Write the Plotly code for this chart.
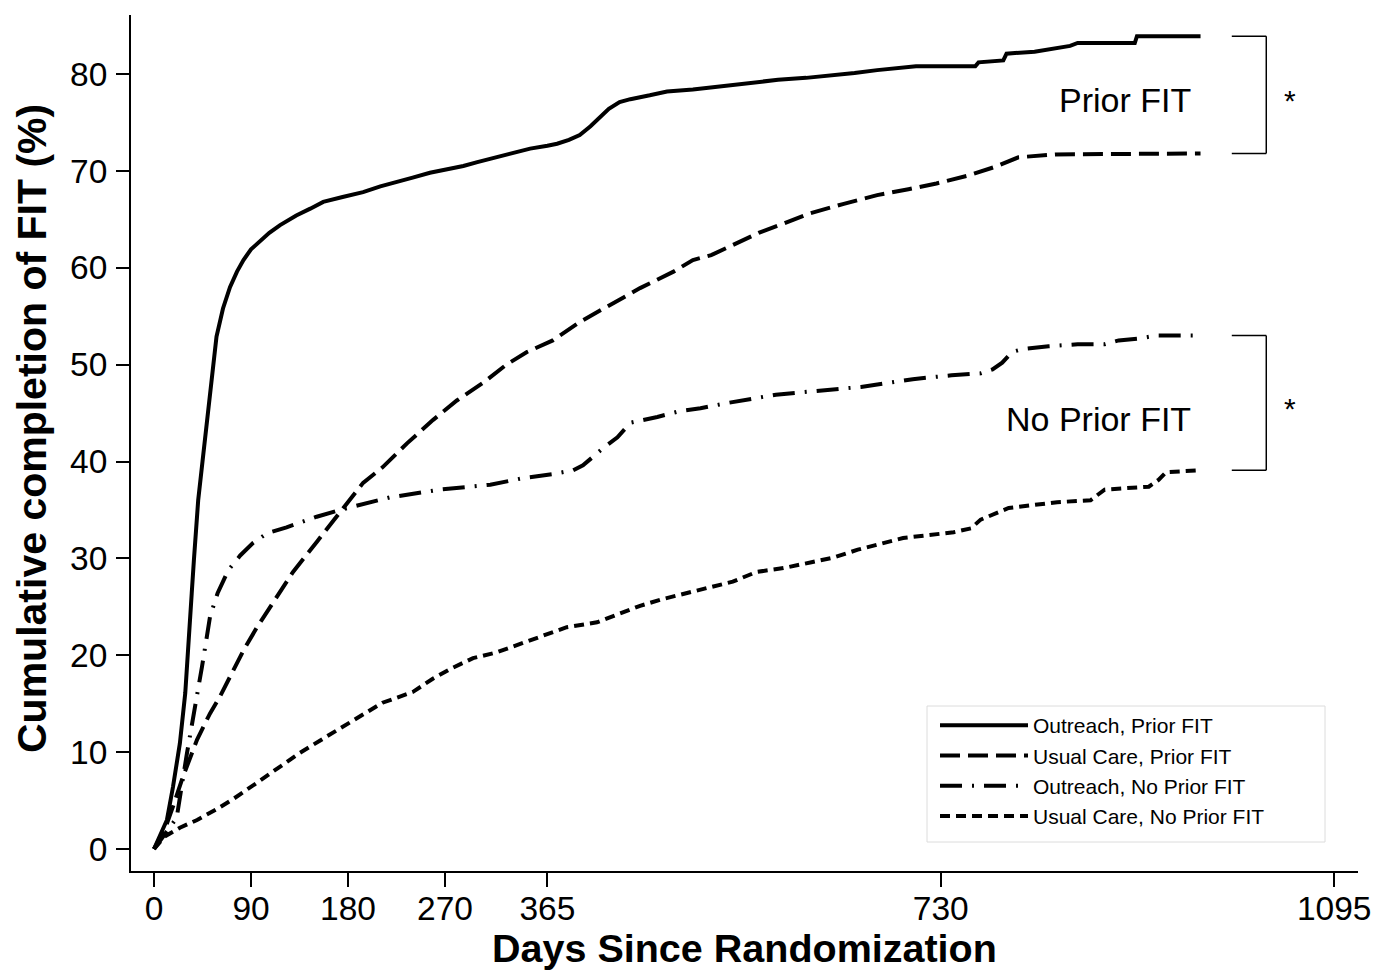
import plotly.graph_objects as go

# ---------------- data ----------------
outreach_prior_days = [0, 12, 17.6, 24, 29, 31.6, 35, 37, 41, 45, 50, 55, 58, 64, 70.5, 77, 83, 90, 98,
                       107, 117, 132, 145, 157, 175, 194, 210, 225, 240, 256, 270, 287, 300, 318, 335,
                       349, 365, 374, 385, 395, 405, 414, 422, 432, 442, 460, 476, 500, 524, 550, 579,
                       605, 634, 650, 671, 690, 707, 762, 765, 788, 791, 817, 850, 857, 910, 912, 971]
outreach_prior_vals = [0, 3.0, 6.4, 10.9, 16.1, 21.3, 26.4, 29.8, 36.0, 40.0, 45.0, 49.4, 52.9, 55.8, 58.0,
                       59.6, 60.8, 61.9, 62.7, 63.6, 64.4, 65.4, 66.1, 66.8, 67.3, 67.8, 68.4, 68.9, 69.3,
                       69.8, 70.1, 70.5, 70.9, 71.4, 71.9, 72.3, 72.6, 72.8, 73.2, 73.7, 74.6, 75.6, 76.4,
                       77.1, 77.4, 77.8, 78.2, 78.4, 78.7, 79.0, 79.4, 79.6, 79.9, 80.1, 80.4, 80.6, 80.8,
                       80.8, 81.2, 81.4, 82.1, 82.3, 82.9, 83.2, 83.2, 83.9, 83.9]

usual_prior_days = [0, 10, 18, 27, 40, 52, 61, 70.5, 83, 95.6, 114, 129, 151, 172.6, 194, 212, 235, 259,
                    281, 305, 327, 346, 370, 395, 420, 451, 482, 500, 517, 540, 561, 585, 608, 640, 671,
                    700, 726, 755, 780, 802, 836, 971]
usual_prior_vals = [0, 2.0, 4.5, 7.5, 11.3, 14.0, 15.7, 17.8, 20.5, 22.9, 26.0, 28.6, 31.7, 34.7, 37.8,
                    39.4, 41.9, 44.3, 46.3, 48.1, 50.0, 51.3, 52.5, 54.4, 56.0, 57.9, 59.6, 60.8, 61.3,
                    62.5, 63.6, 64.6, 65.6, 66.6, 67.5, 68.1, 68.7, 69.5, 70.4, 71.4, 71.7, 71.8]

outreach_noprior_days = [0, 10, 21, 30.6, 36, 41, 44.5, 49, 52, 59, 69, 80, 92, 105, 123, 151, 172.6, 219,
                         265, 312, 343, 370, 389, 398, 407, 418, 430, 442, 467, 488, 507, 530, 577, 615,
                         656, 680, 704, 740, 767, 778, 787, 796, 806, 830, 857, 882, 895, 914, 930, 971]
outreach_noprior_vals = [0, 1.5, 3.2, 9.9, 13.3, 16.1, 18.8, 21.9, 24.0, 26.4, 28.8, 30.3, 31.6, 32.6,
                         33.2, 34.3, 35.0, 36.3, 37.1, 37.6, 38.3, 38.7, 39.1, 39.6, 40.5, 41.5, 42.5,
                         44.0, 44.6, 45.2, 45.5, 46.0, 46.9, 47.3, 47.7, 48.1, 48.5, 48.9, 49.1, 49.5,
                         50.2, 51.3, 51.6, 51.9, 52.1, 52.1, 52.5, 52.7, 53.0, 53.0]

usual_noprior_days = [0, 10, 24, 40, 58, 74, 95, 117, 135, 160, 182, 212, 240, 259, 277, 296, 318, 340,
                      361, 383, 411, 426, 451, 472, 494, 519, 537, 559, 584, 610, 631, 653, 675, 695,
                      742, 758, 767, 793, 838, 869, 882, 923, 932, 939, 971]
usual_noprior_vals = [0, 1.3, 2.2, 3.0, 4.1, 5.2, 6.8, 8.5, 9.9, 11.6, 13.1, 15.1, 16.2, 17.6, 18.7,
                      19.7, 20.3, 21.2, 22.1, 22.9, 23.4, 24.0, 25.1, 25.8, 26.4, 27.1, 27.6, 28.6,
                      29.0, 29.6, 30.1, 30.9, 31.5, 32.1, 32.7, 33.1, 34.0, 35.2, 35.8, 36.0, 37.1,
                      37.4, 38.1, 38.9, 39.1]

series_names = ["Outreach, Prior FIT", "Usual Care, Prior FIT",
                "Outreach, No Prior FIT", "Usual Care, No Prior FIT"]
x_tick_vals = [0, 90, 180, 270, 365, 730, 1095]
y_tick_vals = [0, 10, 20, 30, 40, 50, 60, 70, 80]
group_labels = ["Prior FIT", "No Prior FIT"]
sig_mark = "*"

# ---------------- styles ----------------
FONT = "Liberation Sans, Arial, Helvetica, sans-serif"
LW = 4
dash_styles = ["solid", "20px,8px", "22px,10px,2px,10px", "10px,6px"]
series = [
    (outreach_prior_days, outreach_prior_vals),
    (usual_prior_days, usual_prior_vals),
    (outreach_noprior_days, outreach_noprior_vals),
    (usual_noprior_days, usual_noprior_vals),
]

fig = go.Figure()
for i, ((xd, yd), name, dash) in enumerate(zip(series, series_names, dash_styles)):
    fig.add_trace(go.Scatter(x=xd, y=yd, mode="lines", name=name, legendgroup=f"g{i}",
                             line=dict(color="black", width=LW, dash=dash)))

# brackets + asterisks + group labels
brk_x0, brk_x1 = 1000, 1032
pairs = [(outreach_prior_vals[-1], usual_prior_vals[-1]),
         (outreach_noprior_vals[-1], usual_noprior_vals[-1])]
shapes = []
annotations = []
for (top, bot), label in zip(pairs, group_labels):
    for yy in (top, bot):
        shapes.append(dict(type="line", xref="x", yref="y", x0=brk_x0, x1=brk_x1, y0=yy, y1=yy,
                           line=dict(color="black", width=1.5)))
    shapes.append(dict(type="line", xref="x", yref="y", x0=brk_x1, x1=brk_x1, y0=bot, y1=top,
                       line=dict(color="black", width=1.5)))
    mid = (top + bot) / 2
    annotations.append(dict(x=1054, y=mid, xref="x", yref="y", text=sig_mark, showarrow=False,
                            font=dict(family=FONT, size=30, color="black"), yshift=-6))

annotations.append(dict(x=964, y=77.3, xref="x", yref="y", text=group_labels[0], showarrow=False,
                        xanchor="right", yanchor="middle", font=dict(family=FONT, size=34, color="black")))
annotations.append(dict(x=964, y=44.4, xref="x", yref="y", text=group_labels[1], showarrow=False,
                        xanchor="right", yanchor="middle", font=dict(family=FONT, size=34, color="black")))

# axis titles
annotations.append(dict(x=0.5, y=-0.0905, xref="paper", yref="paper", text="<b>Days Since Randomization</b>",
                        showarrow=False, xanchor="center", yanchor="middle",
                        font=dict(family=FONT, size=39.5, color="black")))
annotations.append(dict(x=-0.0807, y=0.5175, xref="paper", yref="paper",
                        text="<b>Cumulative completion of FIT (%)</b>", textangle=-90,
                        showarrow=False, xanchor="center", yanchor="middle",
                        font=dict(family=FONT, size=41, color="black")))

# legend frame (paper coords; plot area is 1227 x 856 px starting at 131, 15)
PW, PH, PL, PB = 1227.0, 856.0, 131.0, 871.0
shapes.append(dict(type="rect", xref="paper", yref="paper",
                   x0=(927 - PL) / PW, x1=(1325 - PL) / PW,
                   y0=(PB - 842) / PH, y1=(PB - 706) / PH,
                   line=dict(color="#dcdcdc", width=1), fillcolor="rgba(0,0,0,0)", layer="below"))

fig.update_layout(
    width=1379, height=970,
    margin=dict(l=131, r=21, t=15, b=99, autoexpand=False),
    paper_bgcolor="white", plot_bgcolor="white",
    font=dict(family=FONT, color="black"),
    showlegend=True,
    legend=dict(x=(935 - PL) / PW, y=(PB - 705) / PH, xanchor="left", yanchor="top",
                bgcolor="rgba(0,0,0,0)", borderwidth=0,
                font=dict(family=FONT, size=21, color="black"),
                itemwidth=88, tracegroupgap=1.5, traceorder="normal"),
    shapes=shapes,
    annotations=annotations,
    xaxis=dict(range=[-21.34, 1117.1], tickmode="array", tickvals=x_tick_vals,
               ticktext=[str(v) for v in x_tick_vals], automargin=False,
               showgrid=False, zeroline=False, showline=True, linecolor="black", linewidth=2,
               ticks="outside", ticklen=14, tickwidth=2, tickcolor="black",
               tickfont=dict(family=FONT, size=33.5, color="black"), ticklabelstandoff=-7),
    yaxis=dict(range=[-2.27, 86.09], tickmode="array", tickvals=y_tick_vals, automargin=False,
               showgrid=False, zeroline=False, showline=True, linecolor="black", linewidth=2,
               ticks="outside", ticklen=13, tickwidth=2, tickcolor="black",
               tickfont=dict(family=FONT, size=33.5, color="black"), ticklabelstandoff=2),
)

fig.write_html("out.html", config={"displayModeBar": False},
               post_script="document.body.style.margin='0';document.body.style.overflow='hidden';")
